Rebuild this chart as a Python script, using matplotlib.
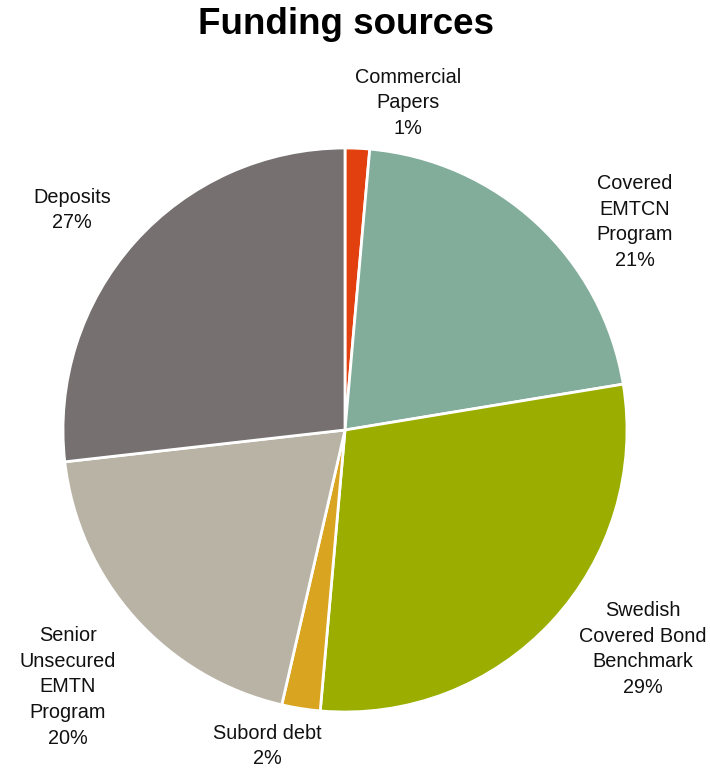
import numpy as np
import matplotlib
matplotlib.use("Agg")
import matplotlib.pyplot as plt

plt.rcParams['font.family'] = ['Liberation Sans', 'DejaVu Sans']

# --- data ---
labels = ["Commercial\nPapers", "Covered\nEMTCN\nProgram", "Swedish\nCovered Bond\nBenchmark",
          "Subord debt", "Senior\nUnsecured\nEMTN\nProgram", "Deposits"]
shares = [1.4, 21.0, 29.0, 2.2, 19.6, 26.8]
colors = ['#E2400F', '#82AD9B', '#9BAE00', '#D9A520', '#B8B3A5', '#767070']

# label centres in pixels relative to pie centre (x right, y up)
label_pos = [(63, 327), (290, 208), (298, -219), (-78, -316), (-277, -257), (-273, 220)]

W, H = 710, 770
cx, cy, r = 345, 430, 282

fig = plt.figure(figsize=(W / 100, H / 100), dpi=100)
ax = fig.add_axes([(cx - r) / W, (H - cy - r) / H, 2 * r / W, 2 * r / H])

ax.pie(shares, colors=colors, startangle=90, counterclock=False, radius=1,
       wedgeprops=dict(edgecolor='white', linewidth=2))
ax.set_xlim(-1, 1)
ax.set_ylim(-1, 1)
ax.set_aspect('equal')
ax.axis('off')

for lab, val, (dx, dy) in zip(labels, shares, label_pos):
    ax.text(dx / r, dy / r, f"{lab}\n{round(val):.0f}%", ha='center', va='center',
            fontsize=14.3, linespacing=1.45, color='#111111', clip_on=False)

fig.text(346 / W, 1 - 25 / H, "Funding sources", ha='center', va='center',
         fontsize=26.5, fontweight='bold')

fig.savefig("out.png", dpi=100)
